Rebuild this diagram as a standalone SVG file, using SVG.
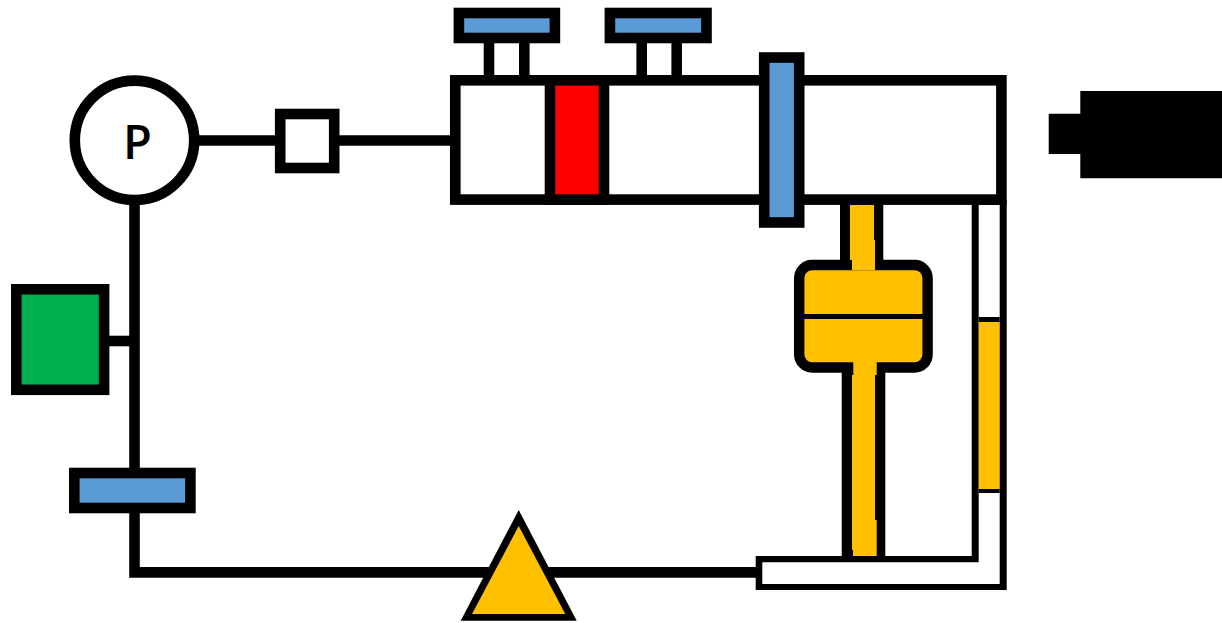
<svg xmlns="http://www.w3.org/2000/svg" width="1222" height="623" viewBox="0 0 1222 623">
<style>
.w{stroke:#000;stroke-width:10.6;fill:#fff}
.b{stroke:#000;stroke-width:10.6;fill:#5B9BD5}
.y{fill:#FFC000}
.k{fill:#000}
.c{stroke:#000;stroke-width:10.6;fill:none}
</style>
<rect width="1222" height="623" fill="#fff"/>
<g id="connectors">
<path class="c" d="M199 140.500H275"/>
<path class="c" d="M339 140.500H450"/>
<path class="c" d="M134.500 205V572.400H756"/>
<path class="c" d="M109 341H134"/>
<path class="c" d="M489 43V76M524.300 43V76M641.700 43V76M676.700 43V76"/>
</g>
<g id="pump">
<circle class="w" cx="134.500" cy="140.300" r="59.700"/>
<text x="137.500" y="158.500" text-anchor="middle" font-family="'Open Sans',sans-serif" font-weight="600" font-size="47" fill="#000">P</text>
</g>
<g id="small-box"><rect class="w" x="280.200" y="114" width="54" height="54"/></g>
<g id="green-box"><rect x="16.300" y="289.300" width="87.800" height="100.500" fill="#00B050" stroke="#000" stroke-width="10.600"/></g>
<g id="bottom-valve"><rect class="b" x="74.300" y="473" width="116.100" height="35"/></g>
<g id="triangle">
<path class="k" d="M518.700 510L576.700 620.700H460.700Z"/>
<path class="y" d="M518.700 526L565.300 614H472Z"/>
</g>
<g id="channel">
<path class="k" d="M755.700 556H971.700V200H1006.700V590H755.700Z"/>
<path fill="#fff" d="M762.300 562.300H978.700V205H999.700V584H762.300Z"/>
<rect class="k" x="978.700" y="317" width="21" height="176"/>
<rect class="y" x="978.700" y="322" width="21" height="167"/>
</g>
<g id="main-chamber"><rect class="w" x="455.300" y="80.300" width="546.100" height="119.300"/></g>
<g id="red-block"><rect x="550" y="80.300" width="54" height="119.300" fill="#FF0000" stroke="#000" stroke-width="10.600"/></g>
<g id="top-valve-1"><rect class="b" x="458.900" y="13" width="96" height="25"/></g>
<g id="top-valve-2"><rect class="b" x="609.900" y="13" width="96.600" height="25"/></g>
<g id="side-valve"><rect class="b" x="764.200" y="57.500" width="35" height="165"/></g>
<g id="filter">
<rect class="k" x="840" y="200" width="43.300" height="70"/>
<rect class="k" x="841.700" y="360" width="43.600" height="200"/>
<rect class="y" x="799.200" y="265" width="128.400" height="102.500" rx="13" stroke="#000" stroke-width="10.400"/>
<path class="k" d="M804 314H923V319H804Z"/>
<path class="y" d="M850 205H874V240H875V270H852V260H850Z"/>
<path class="y" d="M853.300 362H876.700V375H875V520H876.700V556H853V550H852V375H853.300Z"/>
</g>
<g id="camera">
<path class="k" d="M1048.700 113.700H1080.300V91H1222V178.300H1080.300V154H1048.700Z"/>
</g>
</svg>
